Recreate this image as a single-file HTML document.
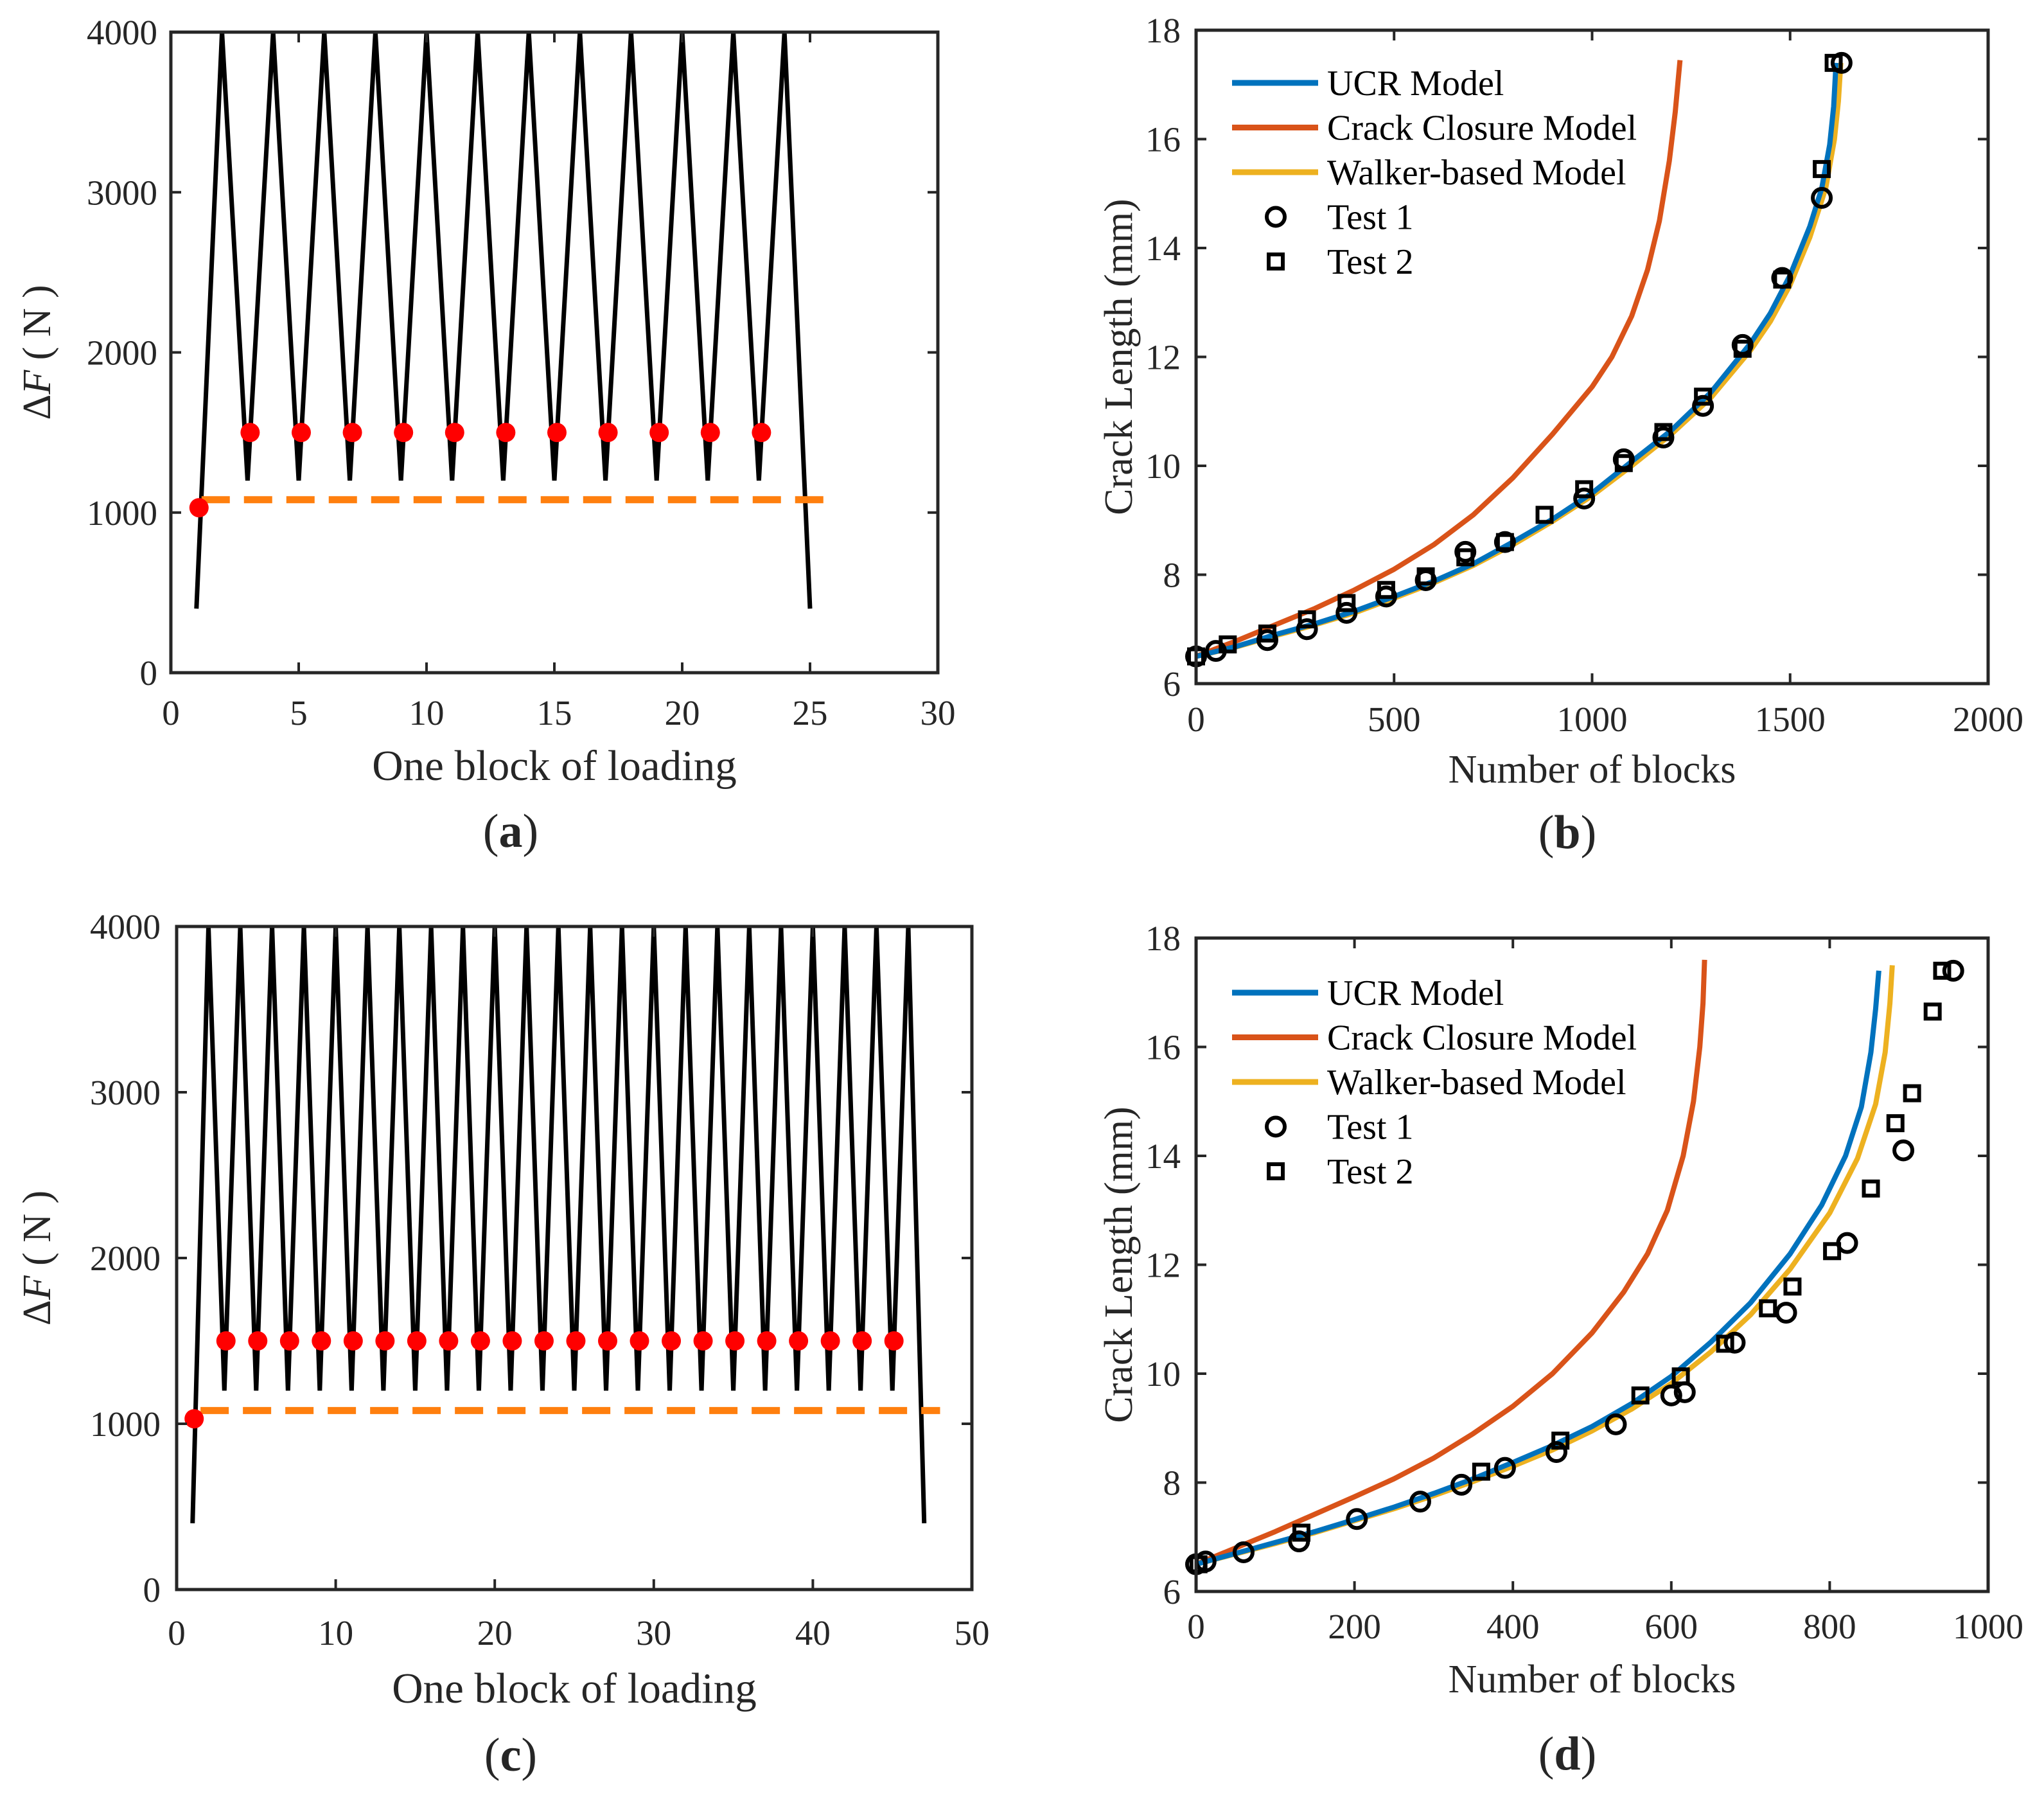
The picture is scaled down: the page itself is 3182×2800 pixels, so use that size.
<!DOCTYPE html>
<html><head><meta charset="utf-8"><style>
html,body{margin:0;padding:0;background:#fff;}
svg{display:block;font-family:"Liberation Serif",serif;}
</style></head><body>
<svg id="fig" width="3182" height="2800" viewBox="0 0 3182 2800"></svg>
<script>
// ---- data ----
const aPeaks = [2,4,6,8,10,12,14,16,18,20,22,24];
const aTroughs = [3,5,7,9,11,13,15,17,19,21,23];
const aEnds = [1,25];
const loadMax = 4000, loadMin = 1200, loadEnd = 400;
const aDotX = [3.1,5.1,7.1,9.1,11.1,13.1,15.1,17.1,19.1,21.1,23.1];
const dotY = 1500;
const firstDot = [1.1,1030];
const thresholdY = 1080;
const aDash = [1.2,25.7];
const cPeaks = [2,4,6,8,10,12,14,16,18,20,22,24,26,28,30,32,34,36,38,40,42,44,46];
const cTroughs = [3,5,7,9,11,13,15,17,19,21,23,25,27,29,31,33,35,37,39,41,43,45];
const cEnds = [1,47];
const cDotX = [3.1,5.1,7.1,9.1,11.1,13.1,15.1,17.1,19.1,21.1,23.1,25.1,27.1,29.1,31.1,33.1,35.1,37.1,39.1,41.1,43.1,45.1];
const cDash = [1.5,48];
const loadYTicks = [0,1000,2000,3000,4000];
const aXTicks = [0,5,10,15,20,25,30];
const cXTicks = [0,10,20,30,40,50];

const bUCR = [[0,6.5],[100,6.68],[200,6.9],[300,7.1],[400,7.33],[500,7.6],[600,7.88],[700,8.2],[800,8.6],[900,9.02],[1000,9.5],[1100,10.08],[1200,10.65],[1300,11.35],[1400,12.25],[1450,12.8],[1500,13.5],[1550,14.4],[1580,15.1],[1600,15.9],[1610,16.6],[1616,17.4]];
const bWalker = [[0,6.5],[100,6.67],[200,6.88],[300,7.08],[400,7.3],[500,7.57],[600,7.85],[700,8.17],[800,8.55],[900,8.98],[1000,9.45],[1100,10.0],[1200,10.58],[1300,11.25],[1400,12.12],[1450,12.65],[1500,13.32],[1550,14.2],[1590,15.1],[1612,16.0],[1622,16.7],[1628,17.4]];
const bClosure = [[0,6.5],[100,6.78],[200,7.08],[300,7.38],[400,7.72],[500,8.1],[600,8.55],[700,9.1],[800,9.78],[900,10.58],[1000,11.45],[1050,12.0],[1100,12.75],[1140,13.6],[1170,14.5],[1195,15.6],[1210,16.5],[1222,17.45]];
const bTest1 = [[0,6.5],[50,6.6],[180,6.8],[280,7.0],[380,7.3],[480,7.6],[580,7.9],[680,8.42],[780,8.6],[980,9.4],[1080,10.12],[1180,10.52],[1280,11.1],[1380,12.22],[1480,13.45],[1580,14.92],[1630,17.4]];
const bTest2 = [[0,6.5],[80,6.72],[180,6.92],[280,7.18],[380,7.48],[480,7.72],[580,7.97],[680,8.32],[780,8.6],[880,9.1],[980,9.57],[1080,10.05],[1180,10.62],[1280,11.27],[1380,12.15],[1480,13.42],[1580,15.45],[1610,17.4]];
const bXTicks = [0,500,1000,1500,2000];

const dUCR = [[0,6.5],[50,6.7],[100,6.9],[150,7.1],[200,7.32],[250,7.55],[300,7.8],[350,8.07],[400,8.37],[450,8.68],[500,9.03],[550,9.45],[600,9.95],[650,10.58],[700,11.3],[750,12.2],[790,13.1],[820,14.0],[840,14.9],[852,15.9],[858,16.7],[862,17.4]];
const dWalker = [[0,6.5],[50,6.69],[100,6.88],[150,7.08],[200,7.3],[250,7.52],[300,7.76],[350,8.02],[400,8.3],[450,8.6],[500,8.95],[550,9.35],[600,9.82],[650,10.4],[700,11.08],[750,11.92],[800,12.95],[835,13.95],[858,14.95],[870,15.9],[876,16.8],[879,17.5]];
const dClosure = [[0,6.5],[50,6.8],[100,7.1],[150,7.42],[200,7.74],[250,8.07],[300,8.45],[350,8.9],[400,9.4],[450,10.0],[500,10.75],[540,11.5],[570,12.2],[595,13.0],[615,14.0],[628,15.0],[636,16.0],[640,16.8],[642,17.6]];
const dTest1 = [[0,6.5],[12,6.55],[60,6.72],[130,6.92],[203,7.33],[283,7.65],[335,7.96],[390,8.27],[455,8.56],[530,9.07],[600,9.6],[617,9.66],[680,10.57],[745,11.12],[822,12.4],[893,14.1],[956,17.4]];
const dTest2 = [[3,6.5],[133,7.08],[360,8.2],[460,8.77],[561,9.6],[612,9.95],[668,10.55],[722,11.2],[753,11.6],[803,12.25],[852,13.4],[883,14.6],[904,15.15],[930,16.65],[942,17.4]];
const dXTicks = [0,200,400,600,800,1000];
const crackYTicks = [6,8,10,12,14,16,18];
const legendLabels = ["UCR Model","Crack Closure Model","Walker-based Model","Test 1","Test 2"];
const colBlue="#0072BD", colOrange="#D95319", colYellow="#EDB120";

// ---- helpers ----
const NS="http://www.w3.org/2000/svg";
const svg=document.getElementById('fig');
function mk(tag,attrs,parent){const e=document.createElementNS(NS,tag);for(const k in attrs)e.setAttribute(k,attrs[k]);(parent||svg).appendChild(e);return e;}
function axisFn(d0,d1,p0,p1){return v=>p0+(v-d0)/(d1-d0)*(p1-p0);}

function makeFrame(g,box,xt,yt,xs,ys,xLabelY,yLabelX){
  const [L,T,R,B]=box;
  const fr=mk('rect',{x:L,y:T,width:R-L,height:B-T,fill:'none',stroke:'#262626','stroke-width':5},g);
  
  
  xt.forEach(v=>{const x=xs(v);
    mk('line',{x1:x,y1:B,x2:x,y2:B-16,stroke:'#262626','stroke-width':4},g);
    mk('line',{x1:x,y1:T,x2:x,y2:T+16,stroke:'#262626','stroke-width':4},g);
    const t=mk('text',{x:x,y:xLabelY,'text-anchor':'middle','font-size':55,fill:'#262626'},g);t.textContent=v;
    
    
  });
  yt.forEach(v=>{const y=ys(v);
    mk('line',{x1:L,y1:y,x2:L+16,y2:y,stroke:'#262626','stroke-width':4},g);
    mk('line',{x1:R,y1:y,x2:R-16,y2:y,stroke:'#262626','stroke-width':4},g);
    const t=mk('text',{x:yLabelX,y:y+19,'text-anchor':'end','font-size':55,fill:'#262626'},g);t.textContent=v;
    
    
  });
}
function label(g,txt,x,y,size,name,rot){
  const t=mk('text',{x:x,y:y,'text-anchor':'middle','font-size':size,fill:'#262626'},g);
  if(rot)t.setAttribute('transform',`rotate(-90 ${x} ${y})`);
  t.innerHTML=txt;
  
  
  return t;
}

function loadPanel(id,box,xmax,peaks,troughs,ends,dotsX,dash,xt,labs){
  const g=mk('g',{});
  
  
  const xs=axisFn(0,xmax,box[0],box[2]), ys=axisFn(0,4000,box[3],box[1]);
  const cp=mk('clipPath',{id:'clip-'+id},g);mk('rect',{x:box[0],y:box[1],width:box[2]-box[0],height:box[3]-box[1]},cp);
  let pts=[[ends[0],loadEnd]];
  peaks.forEach((p,i)=>{pts.push([p,loadMax]);if(i<troughs.length)pts.push([troughs[i],loadMin]);});
  pts.push([ends[1],loadEnd]);
  pts.sort((a,b)=>a[0]-b[0]);
  const pl=mk('polyline',{points:pts.map(p=>xs(p[0])+','+ys(p[1])).join(' '),fill:'none',stroke:'#000','stroke-width':7,'stroke-linejoin':'miter','clip-path':`url(#clip-${id})`},g);
  
  
  const dl=mk('line',{x1:xs(dash[0]),y1:ys(thresholdY),x2:xs(dash[1]),y2:ys(thresholdY),stroke:'#FF7F0E','stroke-width':11,'stroke-dasharray':'44 22'},g);
  
  
  const fd=mk('circle',{cx:xs(firstDot[0]),cy:ys(firstDot[1]),r:15,fill:'#FF0000'},g);
  
  
  dotsX.forEach(x=>{const c=mk('circle',{cx:xs(x),cy:ys(dotY),r:15,fill:'#FF0000'},g);
    
    });
  makeFrame(g,box,xt,loadYTicks,xs,ys,labs.tickY,labs.ytickX);
  label(g,'One block of loading',(box[0]+box[2])/2,labs.titleY,67,'x-axis-title');
  label(g,'Δ<tspan font-style="italic">F</tspan> ( N )',labs.ytitleX,(box[1]+box[3])/2,62,'y-axis-title',true);
  label(g,'(<tspan font-weight="bold">'+labs.letter+'</tspan>)',labs.letterX,labs.letterY,74,'panel-label');
}

function curvePanel(id,box,xmax,ucr,closure,walker,t1,t2,xt,labs){
  const g=mk('g',{});
  
  
  const xs=axisFn(0,xmax,box[0],box[2]), ys=axisFn(6,18,box[3],box[1]);
  [[closure,colOrange,'crack-closure-curve'],[walker,colYellow,'walker-curve'],[ucr,colBlue,'ucr-curve']].forEach(([d,c,n])=>{
    const p=mk('polyline',{points:d.map(q=>xs(q[0])+','+ys(q[1])).join(' '),fill:'none',stroke:c,'stroke-width':8,'stroke-linejoin':'round'},g);
    
    
  });
  t1.forEach(q=>{const c=mk('circle',{cx:xs(q[0]),cy:ys(q[1]),r:14,fill:'none',stroke:'#000','stroke-width':6},g);
    
    });
  t2.forEach(q=>{const r=mk('rect',{x:xs(q[0])-11,y:ys(q[1])-11,width:22,height:22,fill:'none',stroke:'#000','stroke-width':6},g);
    
    });
  makeFrame(g,box,xt,crackYTicks,xs,ys,labs.tickY,labs.ytickX);
  label(g,'Number of blocks',(box[0]+box[2])/2,labs.titleY,62,'x-axis-title');
  label(g,'Crack Length (mm)',labs.ytitleX,(box[1]+box[3])/2,62,'y-axis-title',true);
  label(g,'(<tspan font-weight="bold">'+labs.letter+'</tspan>)',labs.letterX,labs.letterY,74,'panel-label');
  const lg=mk('g',{},g);
  
  
  const cols=[colBlue,colOrange,colYellow];
  legendLabels.forEach((t,i)=>{
    const y=labs.legY+i*69.5;
    if(i<3){mk('line',{x1:1918,y1:y,x2:2052,y2:y,stroke:cols[i],'stroke-width':9},lg);}
    else if(i===3){mk('circle',{cx:1986,cy:y,r:14,fill:'none',stroke:'#000','stroke-width':6},lg);}
    else{mk('rect',{x:1975,y:y-11,width:22,height:22,fill:'none',stroke:'#000','stroke-width':6},lg);}
    const tx=mk('text',{x:2066,y:y+19,'font-size':56,fill:'#000'},lg);tx.textContent=t;
    
    
  });
}

loadPanel('panel-a',[266,50,1460,1047],30,aPeaks,aTroughs,aEnds,aDotX,aDash,aXTicks,
  {tickY:1128,ytickX:245,titleY:1214,ytitleX:78,letter:'a',letterX:795,letterY:1318});
curvePanel('panel-b',[1862,47,3095,1064],2000,bUCR,bClosure,bWalker,bTest1,bTest2,bXTicks,
  {tickY:1138,ytickX:1838,titleY:1218,ytitleX:1762,letter:'b',letterX:2440,letterY:1320,legY:129});
loadPanel('panel-c',[275,1442,1513,2474],50,cPeaks,cTroughs,cEnds,cDotX,cDash,cXTicks,
  {tickY:2560,ytickX:250,titleY:2650,ytitleX:78,letter:'c',letterX:795,letterY:2756});
curvePanel('panel-d',[1862,1460,3095,2477],1000,dUCR,dClosure,dWalker,dTest1,dTest2,dXTicks,
  {tickY:2550,ytickX:1838,titleY:2634,ytitleX:1762,letter:'d',letterX:2440,letterY:2754,legY:1545});
</script>
</body></html>
